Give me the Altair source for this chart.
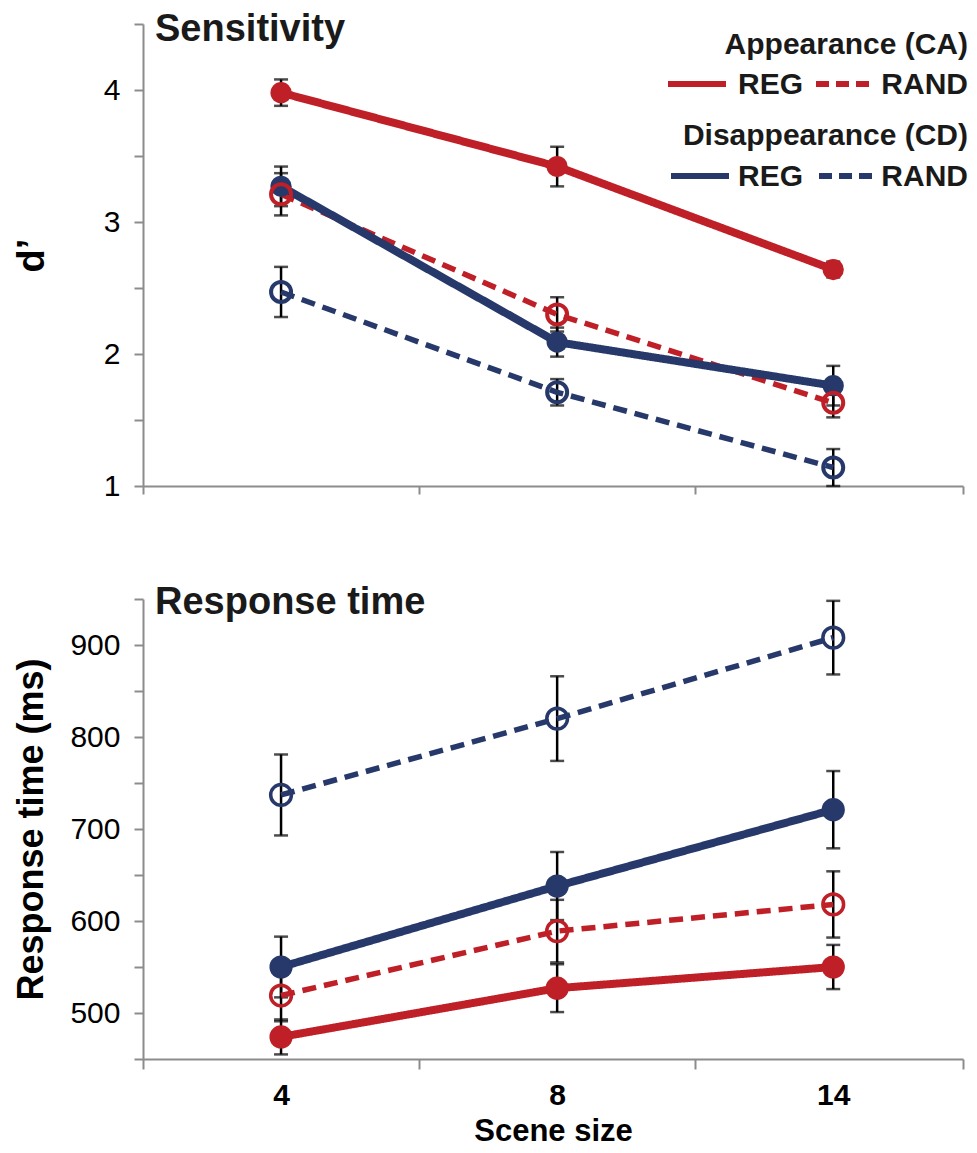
import altair as alt
import pandas as pd

# ---------------- data ----------------
scene_sizes = ["4", "8", "14"]
conditions = ["CA", "CD"]
trial_types = ["REG", "RAND"]

dprime_ca_reg = [3.98, 3.42, 2.64]
dprime_ca_reg_err = [0.10, 0.15, 0.06]
dprime_ca_rand = [3.21, 2.30, 1.63]
dprime_ca_rand_err = [0.16, 0.13, 0.11]
dprime_cd_reg = [3.27, 2.09, 1.76]
dprime_cd_reg_err = [0.15, 0.11, 0.15]
dprime_cd_rand = [2.47, 1.71, 1.14]
dprime_cd_rand_err = [0.19, 0.10, 0.14]

rt_ca_reg = [474, 527, 550]
rt_ca_reg_err = [19, 26, 24]
rt_ca_rand = [519, 589, 618]
rt_ca_rand_err = [28, 34, 36]
rt_cd_reg = [550, 638, 721]
rt_cd_reg_err = [33, 37, 42]
rt_cd_rand = [737, 820, 908]
rt_cd_rand_err = [44, 46, 40]

RED = "#BF1F26"
BLUE = "#27386A"
AXIS_GREY = "#8C8C8C"
FONT = "Liberation Sans"


def build(series):
    rows = []
    for (cond, ttype), (vals, errs) in series.items():
        for i, (s, v, e) in enumerate(zip(scene_sizes, vals, errs)):
            rows.append(dict(size=s, xpos=i + 0.5, cond=cond, type=ttype,
                             value=v, lo=v - e, hi=v + e))
    return pd.DataFrame(rows)


df_top = build({
    ("CA", "REG"): (dprime_ca_reg, dprime_ca_reg_err),
    ("CA", "RAND"): (dprime_ca_rand, dprime_ca_rand_err),
    ("CD", "REG"): (dprime_cd_reg, dprime_cd_reg_err),
    ("CD", "RAND"): (dprime_cd_rand, dprime_cd_rand_err),
})
df_bot = build({
    ("CA", "REG"): (rt_ca_reg, rt_ca_reg_err),
    ("CA", "RAND"): (rt_ca_rand, rt_ca_rand_err),
    ("CD", "REG"): (rt_cd_reg, rt_cd_reg_err),
    ("CD", "RAND"): (rt_cd_rand, rt_cd_rand_err),
})

one = pd.DataFrame({"k": [0]})

W = 820
X_MAX = 2.97
label_expr = " : ".join(
    [f"datum.value === {i + 0.5} ? '{s}'" for i, s in enumerate(scene_sizes)]) + " : ''"

color_scale = alt.Scale(domain=conditions, range=[RED, BLUE])
dash_scale = alt.Scale(domain=trial_types, range=[[1, 0], [14, 8]])


def panel(df, ydomain, yticks, ylabel_test, ytitle, ytitle_size, ytitle_pad,
          height, show_x_labels, lw_solid, lw_dash, filled_size, open_size,
          open_sw, title_text, title_baseline_y, legend=False):
    if show_x_labels:
        xaxis = alt.Axis(values=[0, 0.5, 1, 1.5, 2, 2.5, X_MAX], labelExpr=label_expr,
                         labelFont=FONT, labelFontSize=30, labelFontWeight="bold",
                         labelColor="black", labelPadding=11, labelOverlap=False,
                         labelFlush=False, tickSize=10, tickWidth=2,
                         tickColor=AXIS_GREY,
                         tickOpacity={"condition": {"test": "datum.value % 1 === 0.5", "value": 0}, "value": 1},
                         domainColor=AXIS_GREY, domainWidth=2, grid=False,
                         title="Scene size", titleFont=FONT, titleFontSize=31,
                         titleFontWeight="bold", titleColor="black", titlePadding=6)
    else:
        xaxis = alt.Axis(values=[0, 1, 2, X_MAX], labels=False, tickSize=8, tickWidth=2,
                         tickColor=AXIS_GREY, domainColor=AXIS_GREY, domainWidth=2,
                         grid=False, title=None)
    x = alt.X("xpos:Q", scale=alt.Scale(domain=[0, X_MAX], nice=False, zero=False), axis=xaxis)
    yaxis = alt.Axis(values=yticks,
                     labelExpr=f"{ylabel_test} ? '' + datum.value : ''",
                     labelFont=FONT, labelFontSize=30, labelColor="black",
                     labelPadding=14, tickSize=9, tickWidth=2, tickColor=AXIS_GREY,
                     domainColor=AXIS_GREY, domainWidth=2, grid=False,
                     title=ytitle, titleFont=FONT, titleFontSize=ytitle_size,
                     titleFontWeight="bold", titleColor="black", titlePadding=ytitle_pad)
    y = alt.Y("value:Q", scale=alt.Scale(domain=ydomain, nice=False, zero=False), axis=yaxis)

    base = alt.Chart(df)
    err_rule = base.mark_rule(color="black", strokeWidth=2.5).encode(
        x=x, y=alt.Y("lo:Q"), y2="hi:Q")
    cap_lo = base.mark_tick(color="black", thickness=2.5, size=14, orient="horizontal").encode(
        x=x, y=alt.Y("lo:Q"))
    cap_hi = base.mark_tick(color="black", thickness=2.5, size=14, orient="horizontal").encode(
        x=x, y=alt.Y("hi:Q"))
    lines = base.mark_line(strokeCap="butt").encode(
        x=x, y=y,
        color=alt.Color("cond:N", scale=color_scale, legend=None),
        strokeDash=alt.StrokeDash("type:N", scale=dash_scale, legend=None),
        strokeWidth=alt.StrokeWidth("type:N", scale=alt.Scale(domain=trial_types, range=[lw_solid, lw_dash]), legend=None),
        order="xpos:Q",
    )
    pts_filled = base.transform_filter("datum.type === 'REG'").mark_point(
        filled=True, size=filled_size, opacity=1, shape="circle").encode(
        x=x, y=y, color=alt.Color("cond:N", scale=color_scale, legend=None))
    pts_open = base.transform_filter("datum.type === 'RAND'").mark_point(
        filled=False, size=open_size, strokeWidth=open_sw, opacity=1, shape="circle").encode(
        x=x, y=y, color=alt.Color("cond:N", scale=color_scale, legend=None))

    title = alt.Chart(one).mark_text(
        text=title_text, align="left", baseline="alphabetic", font=FONT,
        fontSize=38, fontWeight="bold", color="#1a1a1a").encode(
        x=alt.value(12), y=alt.value(title_baseline_y))

    layers = [err_rule, cap_lo, cap_hi, lines, pts_filled, pts_open, title]

    if legend:
        def txt(t, xv, yv, align):
            return alt.Chart(one).mark_text(
                text=t, align=align, baseline="middle", font=FONT, fontSize=30,
                fontWeight="bold", color="#1a1a1a").encode(x=alt.value(xv), y=alt.value(yv))

        def seg(col, x1, x2, yv, dash):
            m = dict(color=col, strokeWidth=6, strokeCap="butt")
            if dash:
                m["strokeDash"] = [13, 7]
            return alt.Chart(one).mark_rule(**m).encode(
                x=alt.value(x1), x2=alt.value(x2), y=alt.value(yv))

        R = 825
        layers += [
            txt("Appearance (CA)", R, 21, "right"),
            seg(RED, 525, 583, 60, False), txt("REG", 595, 61, "left"),
            seg(RED, 673, 731, 60, True), txt("RAND", R, 61, "right"),
            txt("Disappearance (CD)", R, 112, "right"),
            seg(BLUE, 528, 586, 152, False), txt("REG", 595, 153, "left"),
            seg(BLUE, 676, 734, 152, True), txt("RAND", R, 153, "right"),
        ]

    return alt.layer(*layers).properties(width=W, height=height)


top = panel(df_top, [1, 4.5], [1, 1.5, 2, 2.5, 3, 3.5, 4, 4.5],
            "datum.value % 1 === 0", "d\u2019", 38, 52, 462, False,
            8, 5.5, 450, 400, 4, "Sensitivity", 17, legend=True)
bottom = panel(df_bot, [450, 950], list(range(450, 951, 50)),
               "datum.value % 100 === 0", "Response time (ms)", 36, 19, 460, True,
               4, 5, 540, 430, 3.5, "Response time", 15)

chart = alt.vconcat(top, bottom, spacing=113, bounds="flush").properties(
    padding={"top": 3, "left": 5, "right": 0, "bottom": 0}
).configure_view(stroke=None)

chart.save("out.html", embed_options={"renderer": "svg", "actions": False})
